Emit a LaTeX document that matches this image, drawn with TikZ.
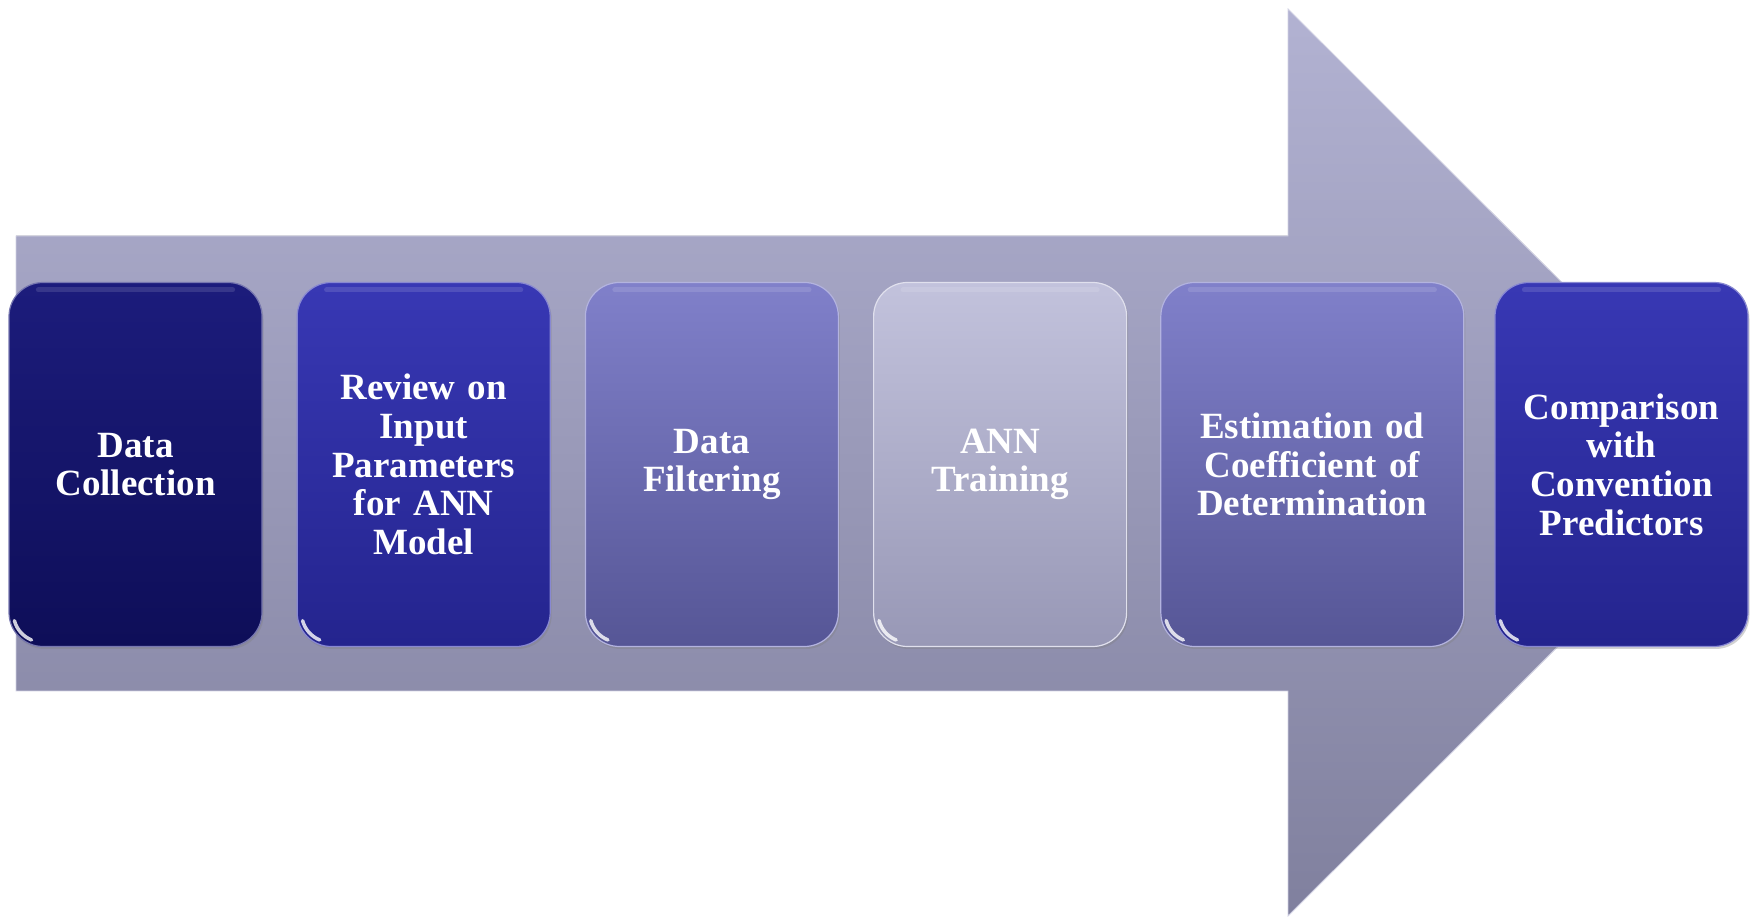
\documentclass[tikz,border=0pt]{standalone}
\usepackage{fontspec}
\setmainfont{Liberation Serif}
\usetikzlibrary{positioning, shadows, calc}

\definecolor{arrowTop}{RGB}{178,178,210}
\definecolor{arrowBot}{RGB}{128,128,158}
\definecolor{navyTop}{RGB}{28,28,124}
\definecolor{navyBot}{RGB}{14,14,88}
\definecolor{royalTop}{RGB}{56,56,180}
\definecolor{royalBot}{RGB}{36,36,142}
\definecolor{lavTop}{RGB}{128,128,202}
\definecolor{lavBot}{RGB}{86,86,150}
\definecolor{silverTop}{RGB}{194,194,220}
\definecolor{silverBot}{RGB}{152,152,182}

\begin{document}
\begin{tikzpicture}[
    x=1pt, y=1pt,
    stage/.style={rectangle, rounded corners=34pt, minimum width=253pt, minimum height=364pt,
                  text width=236pt, align=center, text=white, inner sep=0pt, line width=1.2pt,
                  font=\fontsize{37}{38.6}\selectfont\bfseries,
                  drop shadow={shadow xshift=1.5pt, shadow yshift=-2.5pt, opacity=0.35}},
    navy/.style={stage, top color=navyTop, bottom color=navyBot, draw=navyTop!60!white},
    royal/.style={stage, top color=royalTop, bottom color=royalBot, draw=royalTop!60!white},
    lav/.style={stage, top color=lavTop, bottom color=lavBot, draw=lavTop!60!white},
    silver/.style={stage, top color=silverTop, bottom color=silverBot, draw=silverTop!50!white},
    gloss/.style={white, line width=3.5pt, line cap=round, opacity=0.8},
    rim/.style={white, line width=5pt, line cap=round, opacity=0.12},
]
    \useasboundingbox (0,0) rectangle (1756,918);

    % --- Background arrow ---
    \fill[top color=arrowTop, bottom color=arrowBot, draw=arrowTop!60!white, line width=0.8pt]
        (16,682) -- (1288,682) -- (1288,909) -- (1742,455.5)
        -- (1288,2) -- (1288,227) -- (16,227) -- cycle;

    % --- Stages ---
    \node[navy]   (collect)                          at (135.5,453.5) {Data\\Collection};
    \node[royal]  (review)   [right=34pt of collect]  {Review on\\Input\\Parameters\\for ANN\\Model};
    \node[lav]    (filter)   [right=34pt of review]   {Data\\Filtering};
    \node[silver] (train)    [right=34pt of filter]   {ANN\\Training};
    \node[lav, minimum width=303pt, text width=290pt]
                  (estimate) [right=33pt of train]    {Estimation od\\Coefficient of\\Determination};
    \node[royal]  (compare)  [right=30pt of estimate] {Comparison\\with\\Convention\\Predictors};

    % gloss on the boxes
    \foreach \b in {collect, review, filter, train, estimate, compare} {
        \draw[gloss] ($(\b.south west)+(34,34)+(195:29)$) arc[start angle=195, end angle=248, radius=29];
        \draw[rim] ($(\b.north west)+(30,-8)$) -- ($(\b.north east)+(-30,-8)$);
    }
\end{tikzpicture}
\end{document}
